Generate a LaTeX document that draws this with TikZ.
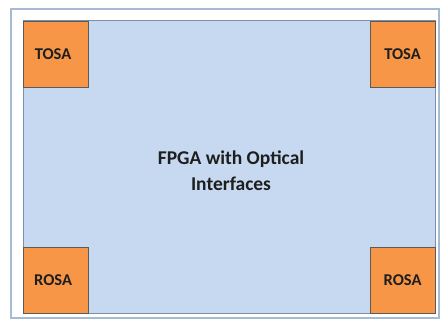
\documentclass[tikz,border=0pt]{standalone}
\usepackage{fontspec}
\setmainfont{Carlito}
\definecolor{framebl}{HTML}{A7BAD3}
\definecolor{fpgafill}{HTML}{C6D9F1}
\definecolor{fpgaedge}{HTML}{7D8FA8}
\definecolor{optfill}{HTML}{F79646}
\definecolor{optedge}{HTML}{5B5B5B}
\definecolor{txt}{HTML}{1E1E1E}
\tikzset{
  optbox/.style={draw=optedge, line width=1.1pt, fill=optfill,
    minimum width=65pt, minimum height=66pt, inner sep=0pt, anchor=north west},
  optlabel/.style={font=\fontsize{16.5}{19}\selectfont\bfseries, text=txt, inner sep=0pt},
}
\begin{document}
\begin{tikzpicture}[x=1pt,y=-1pt]
  \useasboundingbox (0,0) rectangle (440,320);
  % page frame
  \draw[framebl, line width=1.6pt] (11,9) rectangle (439,318);
  % FPGA body
  \node[draw=fpgaedge, line width=0.8pt, fill=fpgafill, inner sep=0pt,
        minimum width=412pt, minimum height=293pt, anchor=north west]
        (fpga) at (23,20) {};
  % optical modules in the corners
  \node[optbox] (tosaL) at (23,21) {};
  \node[optbox] (tosaR) at (370,21) {};
  \node[optbox] (rosaL) at (23,247) {};
  \node[optbox] (rosaR) at (370,247) {};
  \node[optlabel] (tosaLt) at ([xshift=-3pt]tosaL.center) {TOSA};
  \node[optlabel] (tosaRt) at ([xshift=-0.5pt]tosaR.center) {TOSA};
  \node[optlabel] (rosaLt) at ([xshift=-3pt]rosaL.center) {ROSA};
  \node[optlabel] (rosaRt) at ([xshift=-0.5pt]rosaR.center) {ROSA};
  % title (base anchor sits on the last line)
  \node[font=\fontsize{19.5}{26}\selectfont\bfseries, text=txt, align=center,
        inner sep=0pt, anchor=base] (title) at (231,190.5)
        {FPGA with Optical\\Interfaces};
\end{tikzpicture}
\end{document}
